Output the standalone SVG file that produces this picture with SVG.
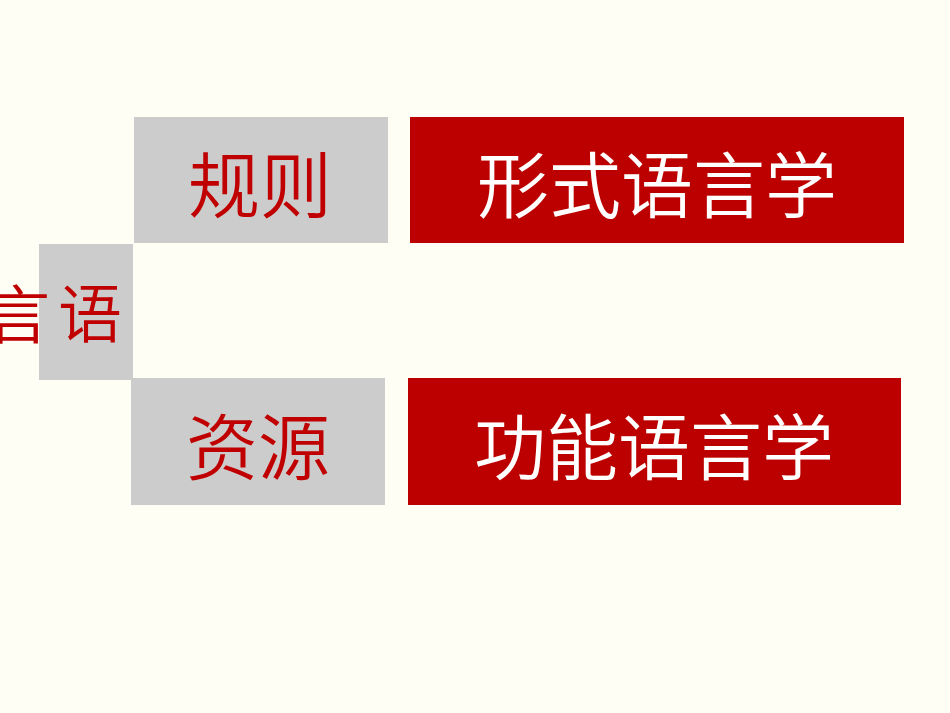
<svg xmlns="http://www.w3.org/2000/svg" width="950" height="713" viewBox="0 0 950 713">
<style>
.g{fill:#CCCCCC}
.r{fill:#BC0000}
.t{font-family:"Noto Sans CJK SC","Noto Sans",sans-serif;text-anchor:middle;font-weight:350}
.tr{fill:#C00000}
.tw{fill:#FFFFFF}
</style>
<rect x="0" y="0" width="950" height="713" fill="#FFFEF4"/>
<g id="connectors"></g>
<g id="node-yuyan">
<rect class="g" x="39" y="244" width="94" height="136"/>
<text class="t tr" x="18" y="338" font-size="64">言</text>
<text class="t tr" x="90" y="337" font-size="64">语</text>
</g>
<g id="node-guize">
<rect class="g" x="134" y="117" width="254" height="126"/>
<text class="t tr" x="260" y="212" font-size="72">规则</text>
</g>
<g id="node-ziyuan">
<rect class="g" x="131" y="378" width="254" height="127"/>
<text class="t tr" x="258" y="474" font-size="72">资源</text>
</g>
<g id="node-xingshi">
<rect class="r" x="410" y="117" width="494" height="126"/>
<text class="t tw" x="657" y="212" font-size="72">形式语言学</text>
</g>
<g id="node-gongneng">
<rect class="r" x="408" y="378" width="493" height="127"/>
<text class="t tw" x="654" y="474" font-size="72">功能语言学</text>
</g>
</svg>
